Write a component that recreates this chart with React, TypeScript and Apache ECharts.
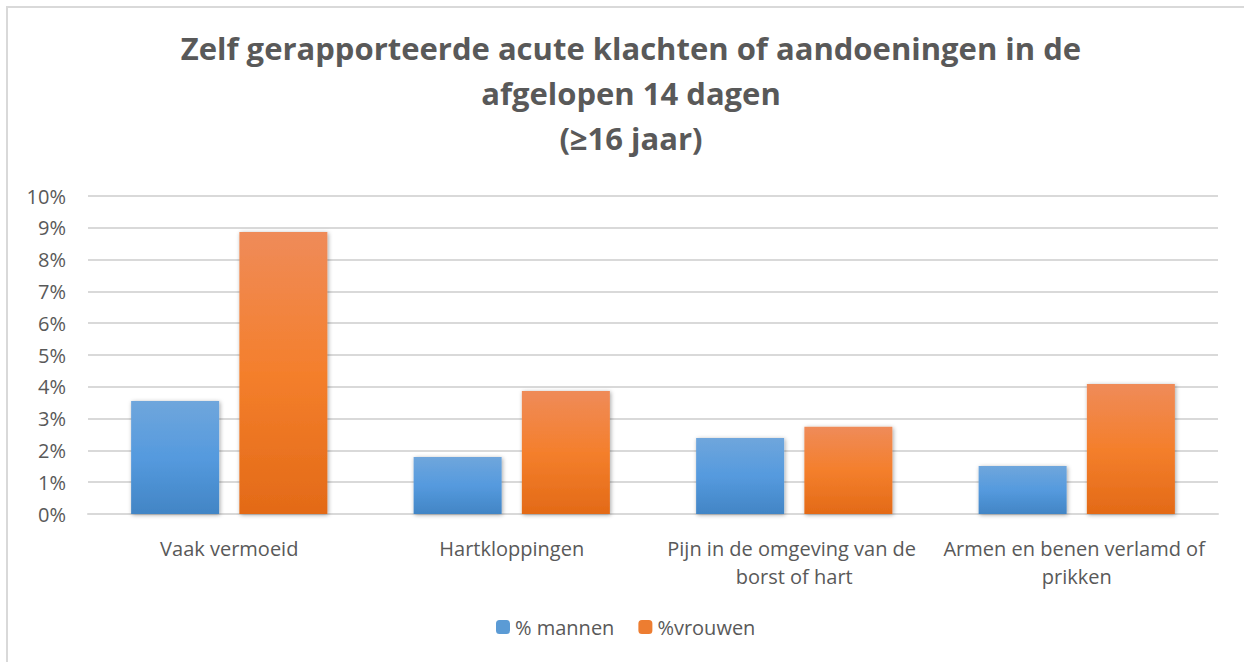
import React, { useEffect, useRef } from "react";
import * as echarts from "echarts";

const categories = [
  "Vaak vermoeid",
  "Hartkloppingen",
  "Pijn in de omgeving van de borst of hart",
  "Armen en benen verlamd of prikken",
];
const mannen = [3.55, 1.79, 2.39, 1.51];
const vrouwen = [8.87, 3.87, 2.74, 4.09];
const seriesNames = ["% mannen", "%vrouwen"];
const titleText = "Zelf gerapporteerde acute klachten of aandoeningen in de\nafgelopen 14 dagen\n(≥16 jaar)";

const FONT = "'Open Sans', sans-serif";
const GREY = "#595959";

export default function App() {
  const ref = useRef<HTMLDivElement>(null);
  useEffect(() => {
    if (!ref.current) return;
    const chart = echarts.init(ref.current, undefined, { renderer: "svg" });
    const grad = (a: string, b: string, c: string) =>
      new echarts.graphic.LinearGradient(0, 0, 0, 1, [
        { offset: 0, color: a },
        { offset: 0.5, color: b },
        { offset: 1, color: c },
      ]);
    const blue = grad("#6fa6dc", "#559ade", "#4285c5");
    const orange = grad("#ef8b59", "#f47f2c", "#e36a17");
    chart.setOption({
      animation: false,
      backgroundColor: "#ffffff",
      title: {
        text: titleText,
        left: 626,
        textAlign: "center",
        top: 20,
        textStyle: {
          fontFamily: FONT,
          fontSize: 31,
          fontWeight: "bold",
          color: GREY,
          lineHeight: 45,
        },
      },
      graphic: [
        {
          type: "rect",
          shape: { x: 7, y: 7, width: 1260, height: 680 },
          style: { fill: "none", stroke: "#d9d9d9", lineWidth: 2 },
          silent: true,
        },
      ],
      legend: {
        bottom: 20,
        left: 491,
        itemWidth: 14,
        itemHeight: 14,
        itemGap: 24,
        data: [
          { name: seriesNames[0], itemStyle: { color: "#5b9bd5" } },
          { name: seriesNames[1], itemStyle: { color: "#ed7d31" } },
        ],
        textStyle: { fontFamily: FONT, fontSize: 20, color: GREY },
      },
      grid: { left: 88, right: 26, top: 196, bottom: 148 },
      xAxis: {
        type: "category",
        data: categories,
        axisLine: { lineStyle: { color: "#d9d9d9", width: 2 } },
        axisTick: { show: false },
        axisLabel: {
          fontFamily: FONT,
          fontSize: 20,
          color: GREY,
          margin: 20,
          lineHeight: 28,
          width: 280,
          overflow: "break",
          interval: 0,
        },
      },
      yAxis: {
        type: "value",
        min: 0,
        max: 10,
        interval: 1,
        axisLabel: {
          formatter: "{value}%",
          fontFamily: FONT,
          fontSize: 20,
          color: GREY,
          margin: 22,
        },
        splitLine: { lineStyle: { color: "#d9d9d9", width: 2 } },
        axisLine: { show: false },
        axisTick: { show: false },
      },
      series: [
        {
          name: seriesNames[0],
          type: "bar",
          data: mannen,
          barWidth: 88,
          barGap: "23%",
          itemStyle: {
            color: blue,
            shadowBlur: 4,
            shadowColor: "rgba(0,0,0,0.35)",
            shadowOffsetX: 1,
            shadowOffsetY: 1,
          },
        },
        {
          name: seriesNames[1],
          type: "bar",
          data: vrouwen,
          barWidth: 88,
          itemStyle: {
            color: orange,
            shadowBlur: 4,
            shadowColor: "rgba(0,0,0,0.35)",
            shadowOffsetX: 1,
            shadowOffsetY: 1,
          },
        },
      ],
    });
    return () => chart.dispose();
  }, []);
  return (
    <div
      ref={ref}
      style={{ position: "fixed", left: 0, top: 0, width: 1244, height: 662 }}
    />
  );
}
